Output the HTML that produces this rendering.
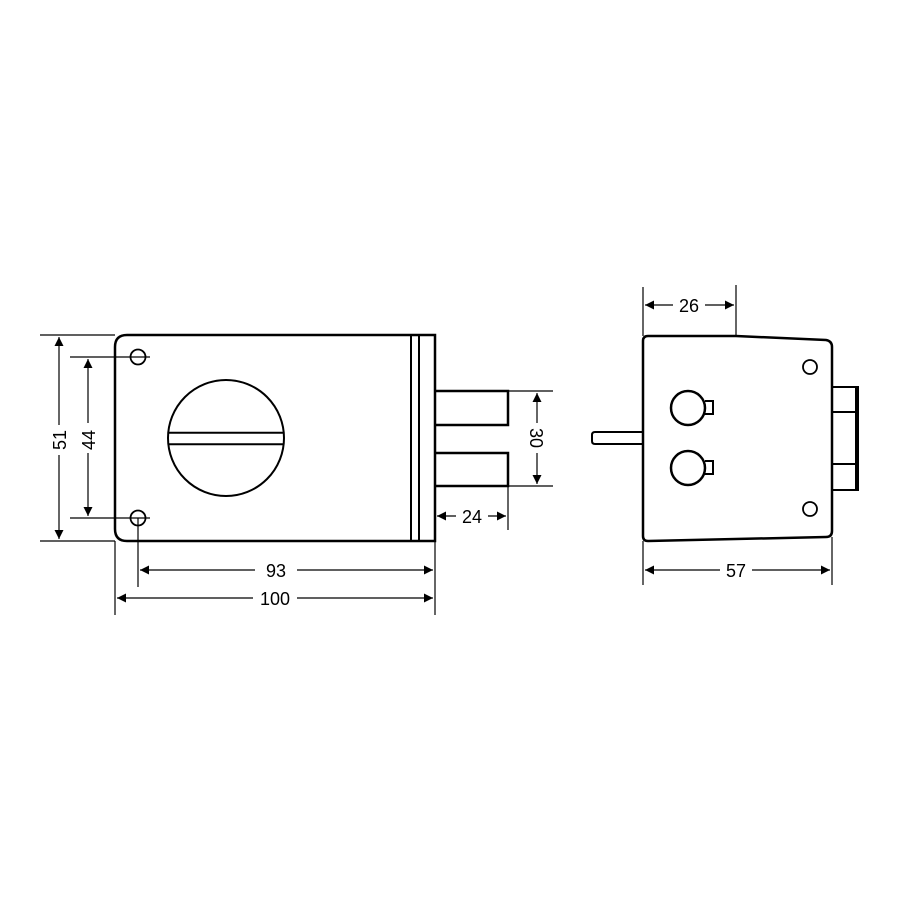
<!DOCTYPE html>
<html><head><meta charset="utf-8"><style>html,body{margin:0;padding:0;background:#fff}</style></head>
<body>
<svg width="900" height="900" viewBox="0 0 900 900" xmlns="http://www.w3.org/2000/svg" font-family="Liberation Sans, sans-serif" font-size="18">
<defs>
<marker id="a" viewBox="0 0 10 10" refX="10" refY="5" markerWidth="12" markerHeight="9" markerUnits="userSpaceOnUse" orient="auto-start-reverse"><path d="M0,0 L10,5 L0,10 z" fill="#000"/></marker>
</defs>
<rect width="900" height="900" fill="#fff"/>
<g fill="none" stroke="#000" stroke-width="2.5">
<path d="M127,335 H435 V541 H127 Q115,541 115,529 V347 Q115,335 127,335 Z"/>
<line x1="411" y1="335" x2="411" y2="541" stroke-width="2"/>
<line x1="419" y1="335" x2="419" y2="541" stroke-width="2"/>
<circle cx="226" cy="438" r="58" stroke-width="2"/>
<path d="M168,432.7 H284 M168,444.3 H284" stroke-width="2"/>
<circle cx="138" cy="357" r="7.5" stroke-width="1.8"/>
<circle cx="138" cy="518" r="7.5" stroke-width="1.8"/>
<path d="M435,391 H508 V425 H435"/>
<path d="M435,453 H508 V486 H435"/>
<path d="M648,336 H736 L826,340 Q832,341 832,347 V531 Q832,537 826,537 L648,541 Q643,541 643,536 V341 Q643,336 648,336 Z"/>
<path d="M643,432 H595 Q592,432 592,435 V441 Q592,444 595,444 H643" stroke-width="2"/>
<circle cx="688" cy="408" r="17"/>
<circle cx="688" cy="468" r="17"/>
<path d="M705,401 H713 V414 H705" stroke-width="2"/>
<path d="M705,461 H713 V474 H705" stroke-width="2"/>
<circle cx="810" cy="367" r="7" stroke-width="1.8"/>
<circle cx="810" cy="509" r="7" stroke-width="1.8"/>
<path d="M832,387 H858 V490 H832 M832,412 H856 M832,464 H856 M856,387 V490" stroke-width="2"/>
</g>
<g stroke="#000" stroke-width="1.2" fill="none">
<path d="M40,335 H115 M40,541 H115 M70,357 H150 M70,518 H150"/>
<path d="M508,391 H553 M508,486 H553 M508,486 V530 M138,518 V587 M115,541 V615 M435,541 V615"/>
<path d="M643,287 V336 M736,285 V336 M643,541 V585 M832,537 V585"/>
<line x1="59" y1="337" x2="59" y2="425" marker-start="url(#a)"/>
<line x1="59" y1="455" x2="59" y2="539" marker-end="url(#a)"/>
<line x1="88" y1="359" x2="88" y2="423" marker-start="url(#a)"/>
<line x1="88" y1="453" x2="88" y2="516" marker-end="url(#a)"/>
<line x1="537" y1="393" x2="537" y2="423" marker-start="url(#a)"/>
<line x1="537" y1="453" x2="537" y2="484" marker-end="url(#a)"/>
<line x1="437" y1="516" x2="456" y2="516" marker-start="url(#a)"/>
<line x1="488" y1="516" x2="506" y2="516" marker-end="url(#a)"/>
<line x1="140" y1="570" x2="255" y2="570" marker-start="url(#a)"/>
<line x1="297" y1="570" x2="433" y2="570" marker-end="url(#a)"/>
<line x1="117" y1="598" x2="253" y2="598" marker-start="url(#a)"/>
<line x1="297" y1="598" x2="433" y2="598" marker-end="url(#a)"/>
<line x1="645" y1="305" x2="673" y2="305" marker-start="url(#a)"/>
<line x1="705" y1="305" x2="734" y2="305" marker-end="url(#a)"/>
<line x1="645" y1="570" x2="720" y2="570" marker-start="url(#a)"/>
<line x1="752" y1="570" x2="830" y2="570" marker-end="url(#a)"/>
</g>
<g fill="#000" text-anchor="middle">
<text x="0" y="0" transform="translate(66,440) rotate(-90)">51</text>
<text x="0" y="0" transform="translate(95,440) rotate(-90)">44</text>
<text x="0" y="0" transform="translate(530,438) rotate(90)">30</text>
<text x="472" y="523">24</text>
<text x="276" y="577">93</text>
<text x="275" y="605">100</text>
<text x="689" y="312">26</text>
<text x="736" y="577">57</text>
</g>
</svg>
</body></html>
